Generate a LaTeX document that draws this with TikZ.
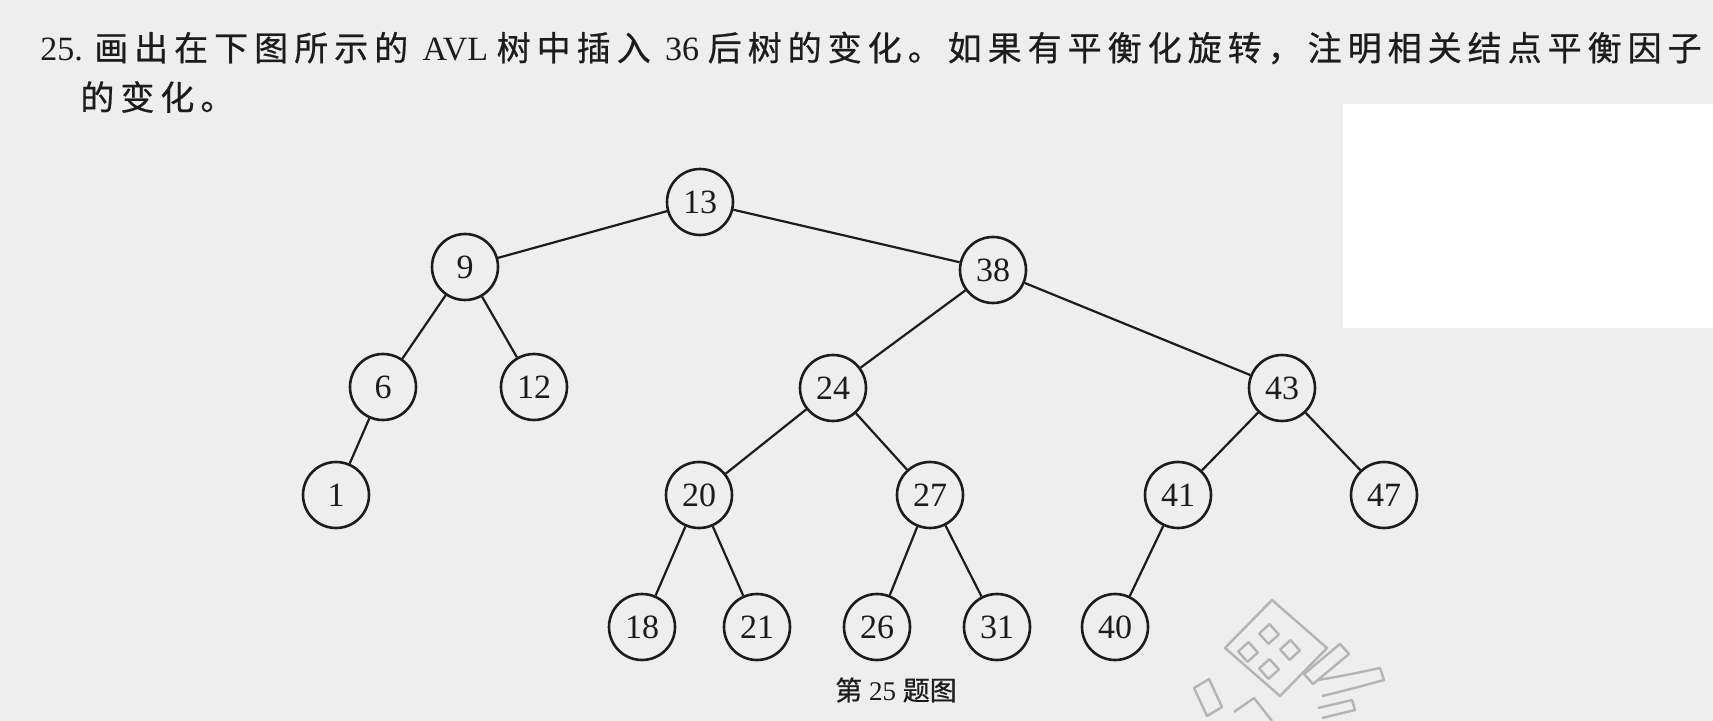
\documentclass[tikz,border=0pt]{standalone}
\usepackage{fontspec}
\setmainfont{Liberation Serif}
\newfontfamily\cjk[FakeBold=0.6]{Noto Sans CJK SC}
\newlength\cjkgap
\setlength\cjkgap{3pt}
\makeatletter
% CJK run with a little extra space after every character
\newcommand\spacedcjk[1]{{\cjk\spacedcjk@aux#1\relax}}
\def\spacedcjk@aux#1{\ifx\relax#1\else#1\hspace{\cjkgap}\expandafter\spacedcjk@aux\fi}
\makeatother
\definecolor{paper}{HTML}{EEEEEE}
\definecolor{ink}{HTML}{1C1C1C}
\definecolor{markgray}{HTML}{B4B4B4}
\begin{document}
\begin{tikzpicture}[x=0.5pt,y=-0.5pt,
  tnode/.style={circle,draw=ink,line width=1.3pt,minimum size=33pt,inner sep=0pt,
    text=ink,font=\fontsize{17}{17}\selectfont},
  edge/.style={draw=ink,line width=1.1pt},
  textline/.style={anchor=west,inner sep=0pt,text=ink,font=\fontsize{17}{17}\selectfont},
  wm/.style={draw=markgray,line width=1.2pt,line join=round}]
% page
\fill[paper] (0,0) rectangle (1713,721);
\fill[white] (1343,104) rectangle (1713,328);
\useasboundingbox (0,0) rectangle (1713,721);

% question text
\node[textline] (q1) at (40,48) {25. \spacedcjk{画出在下图所示的} AVL \spacedcjk{树中插入} 36 \spacedcjk{后树的变化。如果有平衡化旋转，注明相关结点平衡因子}};
\node[textline] (q2) at (80,97) {\spacedcjk{的变化。}};

% tree nodes
\node[tnode] (n13) at (700,202) {13};
\node[tnode] (n9)  at (465,267) {9};
\node[tnode] (n38) at (993,270) {38};
\node[tnode] (n6)  at (383,387) {6};
\node[tnode] (n12) at (534,387) {12};
\node[tnode] (n24) at (833,388) {24};
\node[tnode] (n43) at (1282,388) {43};
\node[tnode] (n1)  at (336,495) {1};
\node[tnode] (n20) at (699,495) {20};
\node[tnode] (n27) at (930,495) {27};
\node[tnode] (n41) at (1178,495) {41};
\node[tnode] (n47) at (1384,495) {47};
\node[tnode] (n18) at (642,627) {18};
\node[tnode] (n21) at (757,627) {21};
\node[tnode] (n26) at (877,627) {26};
\node[tnode] (n31) at (997,627) {31};
\node[tnode] (n40) at (1115,627) {40};

% tree edges
\draw[edge] (n13) -- (n9);
\draw[edge] (n13) -- (n38);
\draw[edge] (n9) -- (n6);
\draw[edge] (n9) -- (n12);
\draw[edge] (n6) -- (n1);
\draw[edge] (n38) -- (n24);
\draw[edge] (n38) -- (n43);
\draw[edge] (n24) -- (n20);
\draw[edge] (n24) -- (n27);
\draw[edge] (n20) -- (n18);
\draw[edge] (n20) -- (n21);
\draw[edge] (n27) -- (n26);
\draw[edge] (n27) -- (n31);
\draw[edge] (n43) -- (n41);
\draw[edge] (n43) -- (n47);
\draw[edge] (n41) -- (n40);

% caption
\node[inner sep=0pt,text=ink,font=\fontsize{13.5}{13.5}\selectfont] (cap) at (896,690) {{\cjk 第} 25 {\cjk 题图}};

% faint stamp in the lower right
\begin{scope}[shift={(22,12)}]
\draw[wm] (1250,588) -- (1305,636) -- (1258,684) -- (1203,636) -- cycle;
\foreach \cx/\cy in {1247/622,1268/638,1226/640,1247/657}
  \draw[wm,rotate around={42:(\cx,\cy)}] (\cx-7,\cy-7) rectangle (\cx+7,\cy+7);
\draw[wm] (1282,662) -- (1318,632) -- (1327,642) -- (1291,672) -- cycle;
\draw[wm] (1172,676) -- (1187,667) -- (1200,695) -- (1185,704) -- cycle;
\draw[wm] (1212,700) -- (1232,686) -- (1250,709);
\draw[wm] (1296,668) .. controls (1320,664) and (1340,660) .. (1358,656) -- (1362,668) .. controls (1340,674) and (1318,680) .. (1300,684);
\draw[wm] (1296,696) -- (1330,688) -- (1333,698) -- (1300,706);
\end{scope}
\end{tikzpicture}
\end{document}
